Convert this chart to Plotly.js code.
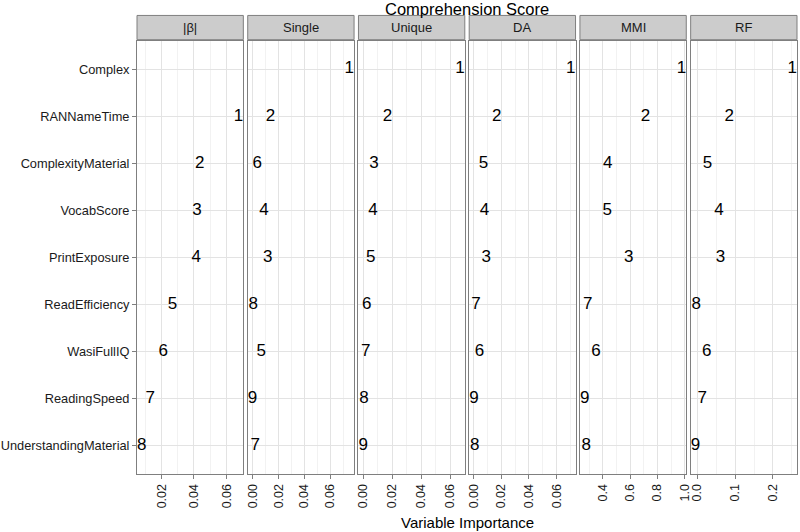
<!DOCTYPE html>
<html>
<head>
<meta charset="utf-8">
<script src="https://cdn.plot.ly/plotly-3.0.1.min.js"></script>
<style>html,body{margin:0;padding:0;background:#fff;}#chart{width:800px;height:532px;}</style>
</head>
<body>
<div id="chart"></div>
<script>
// ---- data ----
const variables = ["Complex","RANNameTime","ComplexityMaterial","VocabScore","PrintExposure","ReadEfficiency","WasiFullIQ","ReadingSpeed","UnderstandingMaterial"];
const methods = ["|β|","Single","Unique","DA","MMI","RF"];
const betaAbs = [null, 0.0674, 0.0436, 0.0418, 0.0414, 0.0268, 0.0210, 0.0130, 0.0079];
const single  = [0.0746, 0.0138, 0.0036, 0.0088, 0.0118, 0.0005, 0.0067, 0.0000, 0.0021];
const unique  = [0.0667, 0.0167, 0.0074, 0.0067, 0.0051, 0.0024, 0.0017, 0.0005, 0.0000];
const da      = [0.0703, 0.0167, 0.0071, 0.0079, 0.0091, 0.0017, 0.0043, 0.0003, 0.0008];
const mmi     = [0.976, 0.712, 0.437, 0.432, 0.590, 0.290, 0.351, 0.268, 0.278];
const rf      = [0.2507, 0.0845, 0.027, 0.057, 0.061, -0.003, 0.025, 0.013, -0.005];
const tickVals = [[0.02,0.04,0.06],[0,0.02,0.04,0.06],[0,0.02,0.04,0.06],[0,0.02,0.04,0.06],[0.4,0.6,0.8,1.0],[0,0.1,0.2]];
const tickLabels = [["0.02","0.04","0.06"],["0.00","0.02","0.04","0.06"],["0.00","0.02","0.04","0.06"],["0.00","0.02","0.04","0.06"],["0.4","0.6","0.8","1.0"],["0.0","0.1","0.2"]];
const minorStep = [0.01,0.01,0.01,0.01,0.1,0.05];
const chartTitle = "Comprehension Score";
const xTitle = "Variable Importance";

const series = [betaAbs, single, unique, da, mmi, rf];
const FONT = "Liberation Sans, Arial, Helvetica, sans-serif";
const GAP = 4.4/660, W = (1 - 5*GAP)/6;

const traces = [], shapes = [], annotations = [];
const layout = {
  width: 800, height: 532,
  margin: {l: 137, r: 3, t: 41, b: 58},
  paper_bgcolor: "#ffffff", plot_bgcolor: "#ffffff",
  showlegend: false,
  font: {family: FONT, color: "#000"}
};

series.forEach((vals, i) => {
  const n = i + 1, sx = n === 1 ? "" : String(n);
  // ranks from values (descending)
  const valid = vals.map((v, k) => [v, k]).filter(p => p[0] !== null).sort((a, b) => b[0] - a[0]);
  const rank = vals.map(() => "");
  valid.forEach((p, r) => { rank[p[1]] = String(r + 1); });
  const xs = [], ys = [], ts = [];
  vals.forEach((v, k) => { if (v !== null) { xs.push(v); ys.push(variables[k]); ts.push(rank[k]); } });
  traces.push({
    type: "scatter", mode: "text", x: xs, y: ys, text: ts,
    textposition: "middle center", textfont: {size: 17, color: "#000", family: FONT},
    xaxis: "x" + sx, yaxis: "y" + sx, cliponaxis: false, hoverinfo: "skip"
  });
  const lo = Math.min(...xs), hi = Math.max(...xs), pad = (hi - lo) * 0.05;
  const d0 = i * (W + GAP);
  layout["xaxis" + sx] = {
    domain: [d0, d0 + W], anchor: "y" + sx,
    range: [lo - pad, hi + pad],
    tickmode: "array", tickvals: tickVals[i], ticktext: tickLabels[i],
    tickangle: -90, ticks: "outside", ticklen: 4, tickcolor: "#7f7f7f",
    tickfont: {size: 12.5, color: "#1a1a1a", family: FONT},
    showgrid: true, gridcolor: "#e3e3e3", gridwidth: 1,
    minor: {dtick: minorStep[i], tick0: 0, showgrid: true, gridcolor: "#f2f2f2", gridwidth: 1},
    zeroline: false, showline: true, mirror: true, linecolor: "#7f7f7f", linewidth: 1,
    fixedrange: true
  };
  layout["yaxis" + sx] = {
    domain: [0, 1], anchor: "x" + sx, type: "category",
    categoryorder: "array", categoryarray: variables,
    range: [variables.length - 1 + 0.6, -0.6],
    showgrid: true, gridcolor: "#e3e3e3", gridwidth: 1,
    zeroline: false, showline: true, mirror: true, linecolor: "#7f7f7f", linewidth: 1,
    ticks: n === 1 ? "outside" : "", ticklen: 4, tickcolor: "#7f7f7f",
    showticklabels: n === 1, ticklabelstandoff: 0,
    tickfont: {size: 12.8, color: "#1a1a1a", family: FONT},
    fixedrange: true
  };
  if (n > 1) layout["yaxis" + sx].matches = "y";
  // strip
  shapes.push({type: "rect", xref: "x" + sx + " domain", yref: "paper", x0: 0, x1: 1, y0: 1.003, y1: 1.059,
    fillcolor: "#cccccc", line: {color: "#7f7f7f", width: 1}});
  annotations.push({xref: "x" + sx + " domain", yref: "paper", x: 0.5, y: 1.031, text: methods[i],
    showarrow: false, xanchor: "center", yanchor: "middle", font: {size: 13, color: "#1a1a1a", family: FONT}});
});

annotations.push({xref: "paper", yref: "paper", x: 0.5, y: 1.073, text: chartTitle, showarrow: false,
  xanchor: "center", yanchor: "middle", font: {size: 16.5, color: "#000", family: FONT}});
annotations.push({xref: "paper", yref: "paper", x: 0.5, y: -0.111, text: xTitle, showarrow: false,
  xanchor: "center", yanchor: "middle", font: {size: 15, color: "#000", family: FONT}});

layout.shapes = shapes;
layout.annotations = annotations;

Plotly.newPlot("chart", traces, layout, {staticPlot: true, displayModeBar: false});
</script>
</body>
</html>
